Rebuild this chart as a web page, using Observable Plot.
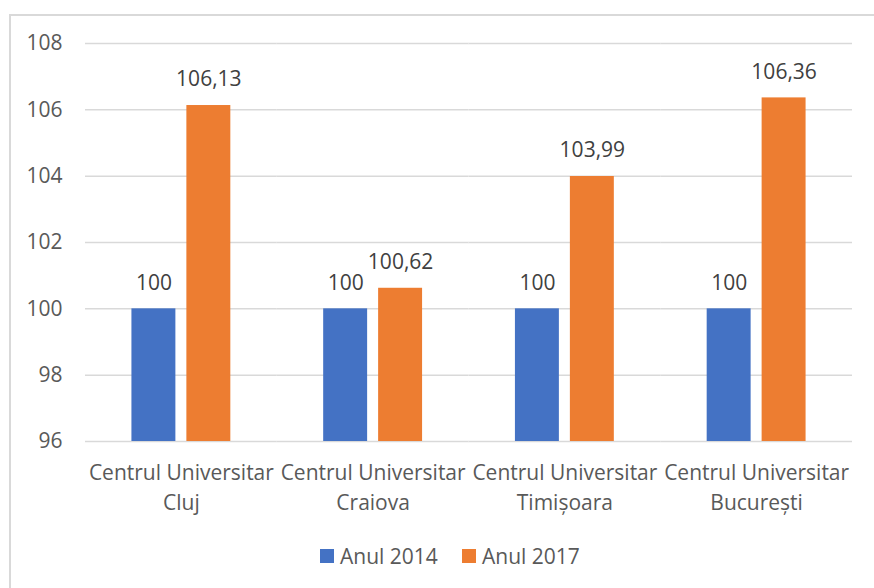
<!DOCTYPE html>
<html>
<head>
<meta charset="utf-8">
<script src="https://cdn.jsdelivr.net/npm/d3@7"></script>
<script src="https://cdn.jsdelivr.net/npm/@observablehq/plot@0.6"></script>
<style>
  html, body { margin: 0; padding: 0; background: #fff; }
  #wrap { position: relative; width: 874px; height: 588px; overflow: hidden; font-family: "Open Sans", Lato, sans-serif; color: #595959; }
  #frame { position: absolute; left: 9px; top: 14px; width: 900px; height: 600px; border-top: 2px solid #d9d9d9; border-left: 2px solid #d9d9d9; box-sizing: border-box; pointer-events: none; }
  #chart { position: absolute; left: 0; top: 0; }
  #legend { position: absolute; left: 0; top: 530px; width: 874px; height: 58px; }
  .item { position: absolute; top: 12px; display: flex; align-items: center; font-size: 21px; line-height: 28px; }
  .sw { width: 14px; height: 14px; margin-right: 6px; }
</style>
</head>
<body>
<div id="wrap">
  <div id="frame"></div>
  <div id="chart"></div>
  <div id="legend"></div>
</div>
<script>
const categories = ["Centrul Universitar\nCluj", "Centrul Universitar\nCraiova", "Centrul Universitar\nTimișoara", "Centrul Universitar\nBucurești"];
const seriesNames = ["Anul 2014", "Anul 2017"];
const values2014 = [100, 100, 100, 100];
const values2017 = [106.13, 100.62, 103.99, 106.36];
const yTicks = [96, 98, 100, 102, 104, 106, 108];
const colors = ["#4472C4", "#ED7D31"];

const data = [];
categories.forEach((c, i) => {
  data.push({cat: c, series: seriesNames[0], value: values2014[i]});
  data.push({cat: c, series: seriesNames[1], value: values2017[i]});
});
const fmt = v => String(v).replace(".", ",");

const chart = Plot.plot({
  width: 874,
  height: 530,
  marginLeft: 85,
  marginRight: 22,
  marginTop: 43,
  marginBottom: 89,
  style: {fontFamily: "'Open Sans', Lato, sans-serif", fontSize: "21px", color: "#595959", background: "transparent"},
  fx: {domain: categories, paddingInner: 0, paddingOuter: 0, round: false, label: null},
  x: {domain: seriesNames, paddingInner: 0.2, paddingOuter: 0.845, round: false, axis: null},
  y: {domain: [yTicks[0], yTicks[yTicks.length - 1]], ticks: yTicks, label: null},
  color: {domain: seriesNames, range: colors},
  marks: [
    Plot.gridY(yTicks, {stroke: "#d9d9d9", strokeOpacity: 1, strokeWidth: 1.5, facetAnchor: null}),
    Plot.axisY(yTicks, {tickSize: 0, tickPadding: 23, fontSize: 21, fill: "#595959", label: null}),
    Plot.axisFx({anchor: "bottom", tickSize: 0, tickPadding: 17, fontSize: 21, lineHeight: 1.43, fill: "#595959", label: null}),
    Plot.barY(data, {fx: "cat", x: "series", y1: yTicks[0], y2: "value", fill: "series"}),
    Plot.text(data, {fx: "cat", x: "series", y: "value", text: d => fmt(d.value), dy: -26, fontSize: 21, fill: "#404040"})
  ]
});
document.getElementById("chart").appendChild(chart);

const legend = document.getElementById("legend");
const positions = [320, 462];
seriesNames.forEach((s, i) => {
  const it = document.createElement("div");
  it.className = "item";
  it.style.left = positions[i] + "px";
  const sw = document.createElement("div");
  sw.className = "sw";
  sw.style.background = colors[i];
  const t = document.createElement("span");
  t.textContent = s;
  it.appendChild(sw); it.appendChild(t);
  legend.appendChild(it);
});
</script>
</body>
</html>
